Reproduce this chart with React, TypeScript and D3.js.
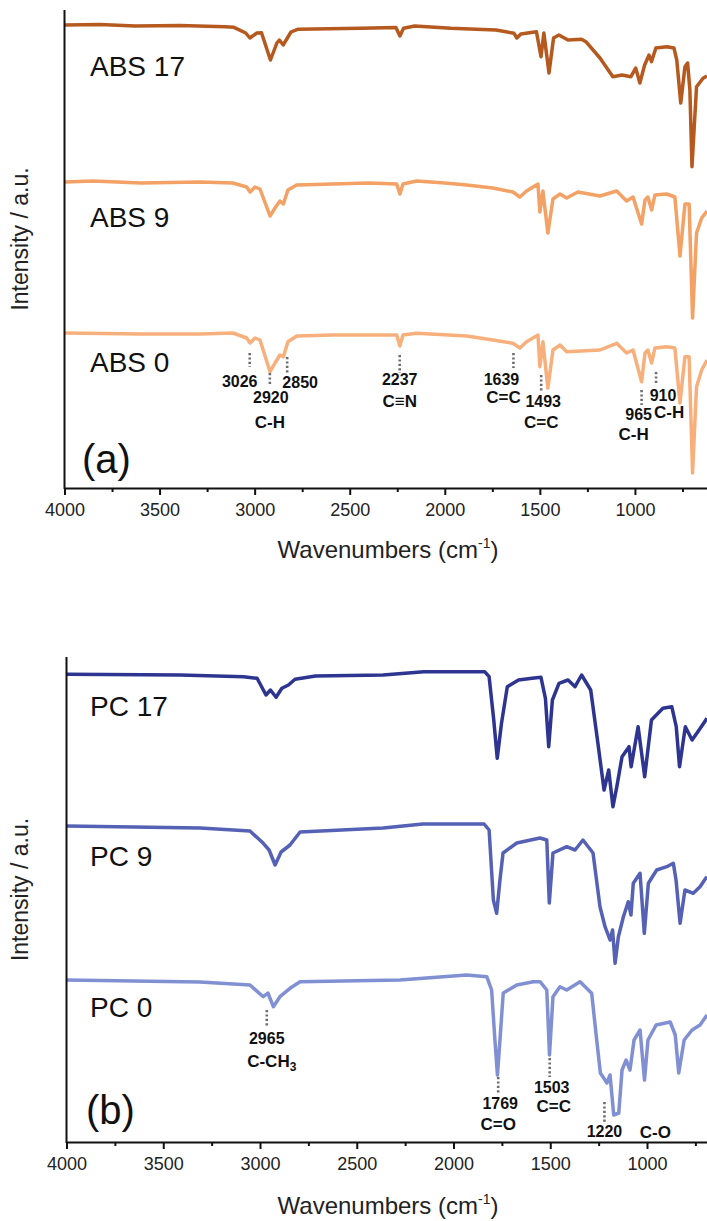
import React from "react";
import * as d3 from "d3";

// FTIR spectra: [wavenumber cm-1, intensity a.u. (stacked as plotted)]
const abs17: [number, number][] = [
  [4000, 463], [3813, 463.5], [3629, 462], [3393, 462.5], [3156, 461.3], [3109, 460.7],
  [3047, 455], [3025, 450], [2988, 455], [2964, 455.3], [2917, 428], [2883, 445],
  [2870, 448], [2850, 443], [2809, 456], [2774, 458.7], [2442, 459.7], [2257, 460.5],
  [2236, 452], [2217, 459.7], [2158, 462], [1968, 459.7], [1731, 458], [1636, 454.7],
  [1621, 450], [1600, 454], [1518, 456.3], [1494, 431.3], [1479, 455], [1452, 415],
  [1428, 450], [1400, 453], [1352, 448], [1281, 448.7], [1258, 446.3], [1184, 430],
  [1116, 411.3], [1068, 413], [1021, 411.3], [996, 420], [974, 405], [949, 423],
  [926, 433], [913, 426.3], [890, 440], [832, 441.3], [795, 440], [780, 428],
  [759, 385], [737, 421.3], [723, 425], [711, 398], [700, 321.3], [689, 358],
  [676, 401.3], [642, 409.7], [621, 412],
];

const abs9: [number, number][] = [
  [4000, 306], [3850, 307], [3600, 305], [3287, 306], [3114, 305], [3042, 301],
  [3024, 296], [2998, 301], [2972, 299], [2919, 272], [2893, 280], [2867, 287],
  [2849, 284], [2825, 298], [2779, 303], [2588, 304], [2400, 305], [2253, 304],
  [2236, 294], [2220, 304], [2148, 307], [2000, 305], [1885, 303], [1747, 300],
  [1642, 296], [1605, 291], [1570, 297], [1510, 304], [1500, 276], [1484, 297],
  [1458, 255], [1431, 289], [1394, 294], [1359, 290], [1300, 296], [1184, 292],
  [1096, 297], [1044, 287], [1010, 291], [965, 264], [947, 288], [932, 291],
  [912, 278], [895, 293], [833, 294], [790, 291], [763, 232], [737, 284],
  [715, 284], [697, 170], [676, 255], [649, 270], [621, 277],
];

const abs0: [number, number][] = [
  [4000, 155], [3600, 154], [3287, 154], [3114, 155], [3042, 150], [3024, 145],
  [2998, 150], [2972, 148], [2919, 116.3], [2893, 125], [2867, 133], [2849, 131.3],
  [2825, 146.3], [2779, 152], [2588, 153], [2253, 153], [2236, 142], [2220, 153],
  [2148, 154.7], [1885, 152], [1747, 148], [1642, 144.7], [1605, 140], [1570, 146.3],
  [1510, 153], [1500, 121.3], [1484, 146.3], [1458, 100], [1431, 138], [1394, 143],
  [1359, 136.3], [1184, 138], [1096, 144.7], [1044, 135], [1010, 138], [965, 106.3],
  [947, 135], [932, 138], [912, 125], [895, 140], [833, 141.3], [790, 140],
  [763, 85], [737, 131.3], [715, 131.3], [697, 15], [676, 101.3], [649, 118],
  [621, 128],
];

const pc17: [number, number][] = [
  [4000, 467.7], [3413, 467], [3085, 465.3], [3015, 463.7], [2969, 447], [2946, 452],
  [2917, 444.7], [2887, 453.7], [2853, 457], [2819, 462.7], [2713, 466], [2364, 467],
  [2153, 470.3], [1839, 470.3], [1816, 465.3], [1792, 422], [1774, 383.7], [1752, 418.7],
  [1722, 455.3], [1664, 462], [1594, 463.7], [1548, 464.7], [1525, 443.7], [1508, 395.3],
  [1489, 442], [1455, 458.7], [1408, 462], [1372, 455.3], [1338, 467], [1291, 452],
  [1256, 402], [1222, 352], [1198, 372], [1176, 335.3], [1156, 355.3], [1129, 385.3],
  [1093, 395.3], [1082, 375.3], [1046, 415.3], [1012, 365.3], [977, 422], [918, 433.7],
  [872, 435.3], [849, 415.3], [832, 375.3], [802, 415.3], [767, 402], [731, 412],
  [690, 423.7],
];

const pc9: [number, number][] = [
  [4000, 316], [3310, 314], [3052, 311], [2983, 298.7], [2953, 292], [2922, 277],
  [2891, 290], [2845, 297], [2793, 310], [2364, 314], [2158, 318], [1842, 318],
  [1816, 312], [1794, 242], [1777, 228.7], [1760, 262], [1744, 289], [1673, 299],
  [1553, 304], [1518, 302], [1505, 239], [1486, 289], [1415, 295.3], [1372, 292],
  [1331, 302], [1279, 289], [1243, 235.3], [1217, 215.3], [1191, 202], [1178, 212],
  [1165, 178.7], [1148, 205.3], [1122, 225.3], [1097, 240.3], [1083, 227], [1071, 258.7],
  [1036, 268.7], [1014, 208.7], [993, 258.7], [950, 272], [898, 275.3], [864, 278.7],
  [850, 262], [829, 218.7], [804, 252], [761, 248.7], [726, 255.3], [691, 265.3],
];

const pc0: [number, number][] = [
  [4000, 162], [3310, 160], [3052, 157], [2983, 145.3], [2959, 149], [2931, 135.3],
  [2897, 145.3], [2845, 153.7], [2793, 160.3], [2277, 162], [1932, 167], [1828, 165.3],
  [1803, 152], [1786, 102], [1773, 67], [1760, 102], [1743, 149], [1673, 157],
  [1588, 160.3], [1553, 160.3], [1518, 152], [1504, 87], [1486, 145.3], [1450, 155.3],
  [1415, 152], [1346, 160.3], [1286, 148.7], [1260, 102], [1241, 69], [1207, 59],
  [1191, 67], [1172, 27], [1146, 29], [1129, 72], [1108, 82], [1088, 72],
  [1067, 102], [1036, 112], [1013, 62], [995, 102], [953, 117], [880, 120],
  [854, 107], [836, 69], [808, 102], [767, 112], [726, 117], [690, 127],
];

const absNames = ["ABS 17", "ABS 9", "ABS 0"];
const pcNames = ["PC 17", "PC 9", "PC 0"];
const absColors = ["#b5591f", "#f3a164", "#f7b07c"];
const pcColors = ["#2d3590", "#5461b4", "#8190d2"];
const absLabelY = [412, 261, 116];
const pcLabelY = [426, 276, 125];

const majorTicks = [4000, 3500, 3000, 2500, 2000, 1500, 1000];
const minorTicks = [3750, 3250, 2750, 2250, 1750, 1250, 750];

// peak marks: wavenumber, label, group label, [line top, line bottom], label offsets
type Peak = { wn: number; num: string; grp?: string; l: [number, number]; ldx?: number; ndx: number; ny: number; gdx?: number; gy?: number };
const absPeaks: Peak[] = [
  { wn: 3026, num: "3026", l: [135, 121], ndx: -10, ny: 101 },
  { wn: 2920, num: "2920", grp: "C-H", l: [115, 103], ndx: 1, ny: 85, gdx: 0, gy: 60 },
  { wn: 2850, num: "2850", l: [131, 115], ldx: 4, ndx: 17, ny: 100 },
  { wn: 2237, num: "2237", grp: "C\u2261N", l: [133, 115], ndx: 0, ny: 103, gdx: 0, gy: 81 },
  { wn: 1639, num: "1639", grp: "C=C", l: [135, 120], ndx: -12, ny: 103, gdx: -10, gy: 85 },
  { wn: 1493, num: "1493", grp: "C=C", l: [113, 96], ndx: 2, ny: 81, gdx: 0, gy: 60 },
  { wn: 965, num: "965", grp: "C-H", l: [98, 83], ndx: -3, ny: 68, gdx: -8, gy: 48 },
  { wn: 910, num: "910", grp: "C-H", l: [116, 103], ldx: 4, ndx: 11, ny: 87, gdx: 17, gy: 70 },
];
const pcPeaks: Peak[] = [
  { wn: 2965, num: "2965", grp: "C-CH|3", l: [132, 115], ndx: 0, ny: 98, gdx: 5, gy: 75 },
  { wn: 1769, num: "1769", grp: "C=O", l: [65, 49], ndx: 2, ny: 33, gdx: 0, gy: 12 },
  { wn: 1503, num: "1503", grp: "C=C", l: [84, 65], ndx: 2, ny: 49, gdx: 4, gy: 30 },
  { wn: 1220, num: "1220", grp: "C-O", l: [40, 20], ndx: 0, ny: 5, gdx: 51, gy: 4 },
];

const FONT = "'Liberation Sans', Arial, Helvetica, sans-serif";

const panels = [
  {
    series: [abs17, abs9, abs0], names: absNames, colors: absColors, labelY: absLabelY, peaks: absPeaks,
    tag: "(a)", tagX: 82, tagY: 15,
    xDomain: [4000, 621], xRange: [64.5, 707], yDomain: [0, 478], yRange: [488, 10], titleY: 558,
  },
  {
    series: [pc17, pc9, pc0], names: pcNames, colors: pcColors, labelY: pcLabelY, peaks: pcPeaks,
    tag: "(b)", tagX: 86, tagY: 18,
    xDomain: [4000, 690], xRange: [66.5, 707], yDomain: [0, 485], yRange: [1142, 657], titleY: 1214,
  },
];

const App = () => {
  const svgRef = React.useRef<SVGSVGElement>(null);

  React.useEffect(() => {
    const svg = d3.select(svgRef.current);
    svg.selectAll("*").remove();

    panels.forEach((p) => {
      const x = d3.scaleLinear().domain(p.xDomain).range(p.xRange);
      const y = d3.scaleLinear().domain(p.yDomain).range(p.yRange);
      const g = svg.append("g");
      const line = d3.line<[number, number]>().x((d) => x(d[0])).y((d) => y(d[1]));

      // spectra
      p.series.forEach((s, i) => {
        g.append("path")
          .attr("d", line(s))
          .attr("fill", "none")
          .attr("stroke", p.colors[i])
          .attr("stroke-width", 3.5)
          .attr("stroke-linejoin", "round");
        g.append("text")
          .attr("x", 90)
          .attr("y", y(p.labelY[i]))
          .attr("font-family", FONT)
          .attr("font-size", 28)
          .attr("fill", "#111")
          .text(p.names[i]);
      });

      // peak markers
      p.peaks.forEach((k) => {
        const lx = x(k.wn) + (k.ldx || 0);
        g.append("line")
          .attr("x1", lx).attr("x2", lx)
          .attr("y1", y(k.l[0])).attr("y2", y(k.l[1]))
          .attr("stroke", "#6d6d6d")
          .attr("stroke-width", 2.6)
          .attr("stroke-dasharray", "2.2,2.2");
        g.append("text")
          .attr("x", x(k.wn) + k.ndx)
          .attr("y", y(k.ny))
          .attr("text-anchor", "middle")
          .attr("font-family", FONT)
          .attr("font-weight", "bold")
          .attr("font-size", 16)
          .attr("fill", "#111")
          .text(k.num);
        if (k.grp) {
          const [main, sub] = k.grp.split("|");
          const t = g.append("text")
            .attr("x", x(k.wn) + (k.gdx || 0))
            .attr("y", y(k.gy!))
            .attr("text-anchor", "middle")
            .attr("font-family", FONT)
            .attr("font-weight", "bold")
            .attr("font-size", 17)
            .attr("fill", "#111");
          t.append("tspan").text(main);
          if (sub) t.append("tspan").attr("font-size", 12).attr("dy", 4).text(sub);
        }
      });

      // axes
      const ax = g.append("g")
        .attr("transform", `translate(0,${p.yRange[0]})`)
        .call(d3.axisBottom(x).tickValues(majorTicks).tickSize(7).tickSizeOuter(0).tickPadding(8).tickFormat(d3.format("d")));
      ax.select(".domain").attr("stroke", "#111").attr("stroke-width", 2);
      ax.selectAll(".tick line").attr("stroke", "#111").attr("stroke-width", 2);
      ax.selectAll(".tick text").attr("font-size", 18).attr("font-family", FONT).attr("fill", "#222");
      const mn = g.append("g")
        .attr("transform", `translate(0,${p.yRange[0]})`)
        .call(d3.axisBottom(x).tickValues(minorTicks).tickSize(4).tickSizeOuter(0).tickFormat(() => ""));
      mn.select(".domain").remove();
      mn.selectAll(".tick line").attr("stroke", "#111").attr("stroke-width", 2);

      g.append("line")
        .attr("x1", x(4000)).attr("x2", x(4000))
        .attr("y1", p.yRange[1]).attr("y2", p.yRange[0] + 1)
        .attr("stroke", "#111").attr("stroke-width", 2);

      // titles
      const xt = g.append("text")
        .attr("x", 388)
        .attr("y", p.titleY)
        .attr("text-anchor", "middle")
        .attr("font-family", FONT)
        .attr("font-size", 24)
        .attr("fill", "#222");
      xt.append("tspan").text("Wavenumbers (cm");
      xt.append("tspan").attr("font-size", 14).attr("dy", -10).text("-1");
      xt.append("tspan").attr("dy", 10).text(")");

      const yc = (p.yRange[0] + p.yRange[1]) / 2 - 10;
      g.append("text")
        .attr("transform", `translate(28,${yc}) rotate(-90)`)
        .attr("text-anchor", "middle")
        .attr("font-family", FONT)
        .attr("font-size", 23)
        .attr("fill", "#222")
        .text("Intensity / a.u.");

      g.append("text")
        .attr("x", p.tagX)
        .attr("y", y(p.tagY))
        .attr("font-family", FONT)
        .attr("font-size", 40)
        .attr("fill", "#111")
        .text(p.tag);
    });
  }, []);

  return (
    <svg
      ref={svgRef}
      width={707}
      height={1221}
      style={{ position: "absolute", left: 0, top: 0, background: "#fff" }}
    />
  );
};

export default App;
